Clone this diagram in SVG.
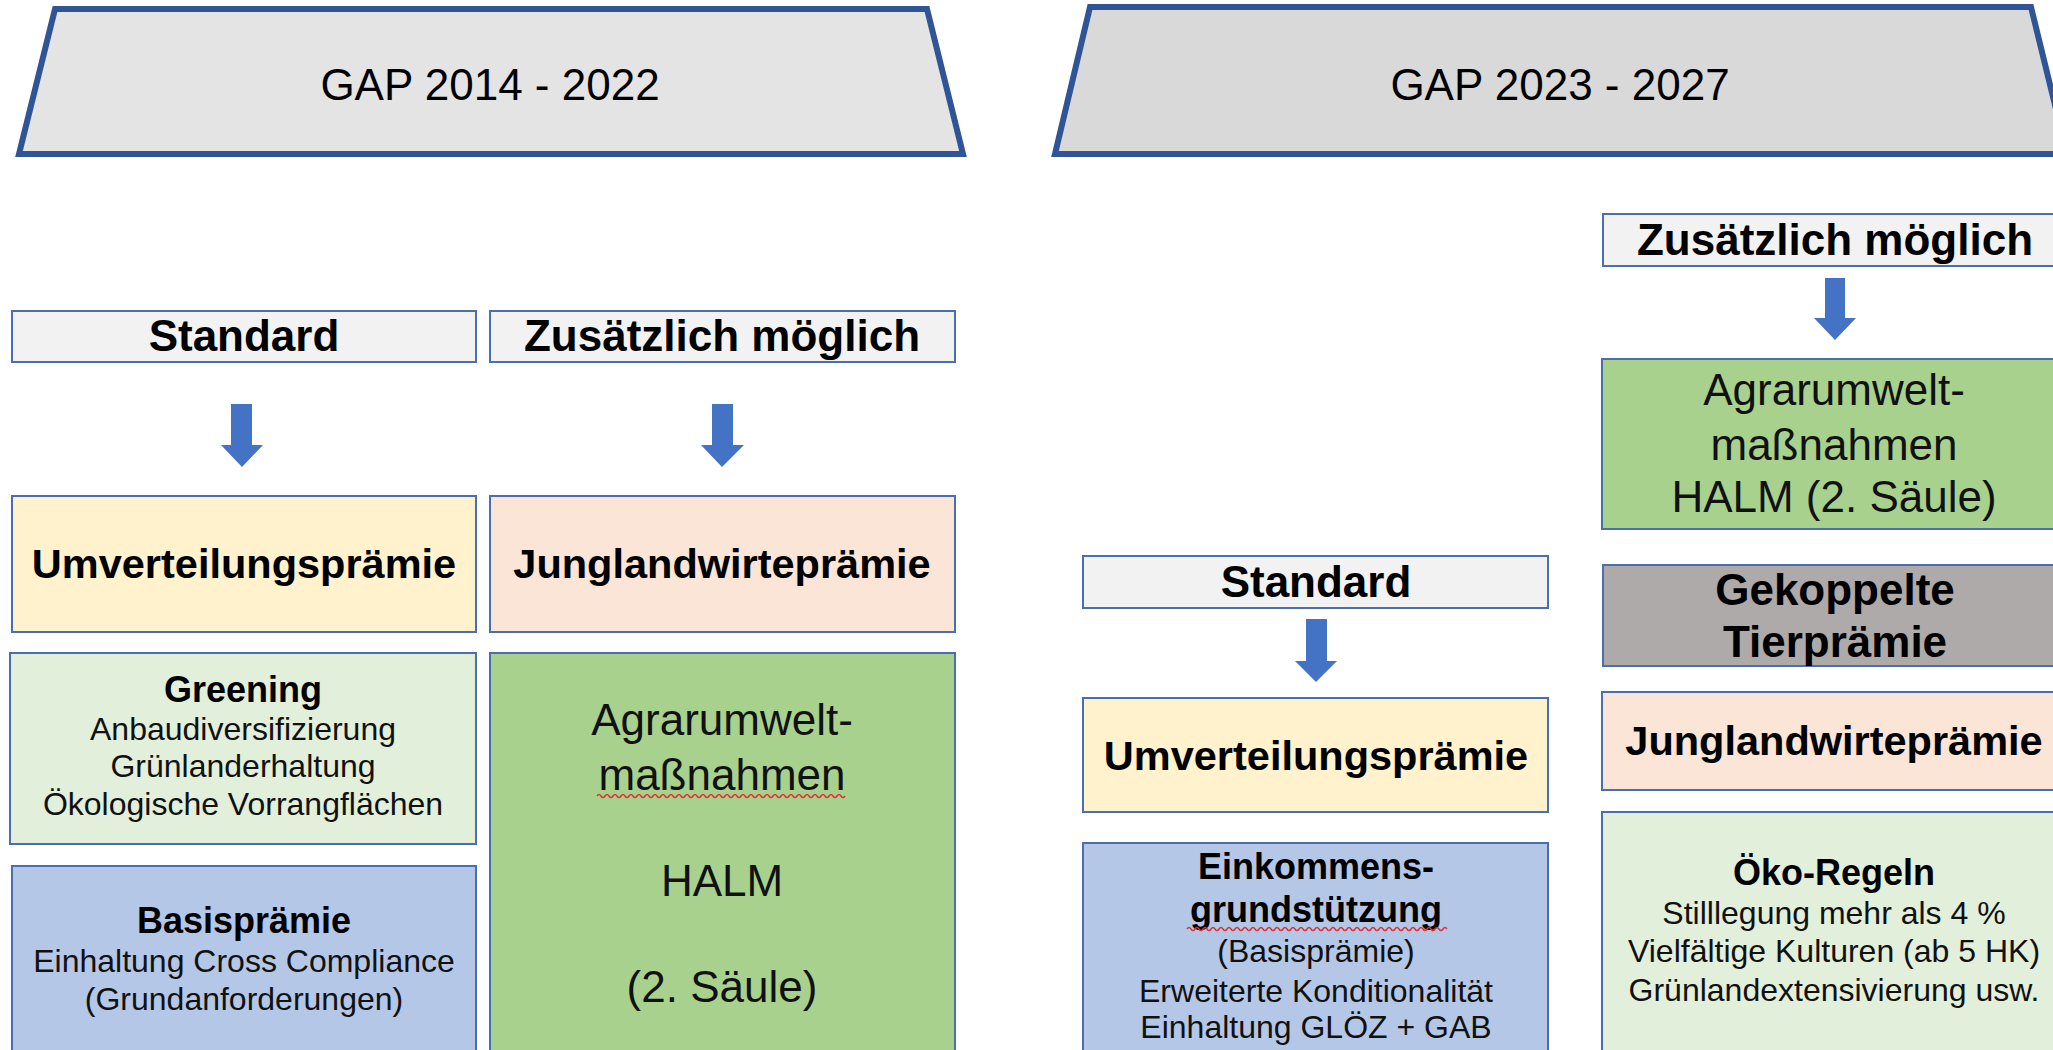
<svg xmlns="http://www.w3.org/2000/svg" width="2053" height="1050" viewBox="0 0 2053 1050">
<defs>
<style>
.bg{fill:#ffffff}
.trap{stroke:#2F5597;stroke-width:6;stroke-linejoin:miter}
.box{stroke:#4A6EB0;stroke-width:2}
.hdr{fill:#F2F2F2}
.yel{fill:#FFF2CC}
.pink{fill:#FBE5D6}
.lgreen{fill:#E2EFDA}
.green{fill:#A9D18E}
.blue{fill:#B4C7E7}
.gray{fill:#AEAAAA}
text{font-family:"Liberation Sans",Arial,sans-serif;text-anchor:middle;fill:#000}
.title{font-size:44px}
.h{font-size:44px;font-weight:bold}
.hm{font-size:41.5px;font-weight:bold}
.b{font-size:36px;font-weight:bold}
.r{font-size:32px;fill:#111}
.big{font-size:44px;fill:#111}
.arrow{fill:#4472C4}
.squig{fill:none;stroke:#E03030;stroke-width:1.5}
</style>
</defs>
<rect class="bg" x="0" y="0" width="2053" height="1050"/>

<g id="title-left">
<polygon class="trap" fill="#E4E4E4" points="55,9 927,9 963,154 19,154"/>
<text class="title" x="490" y="100">GAP 2014 - 2022</text>
</g>
<g id="title-right">
<polygon class="trap" fill="#D9D9D9" points="1090,7 2031,7 2067,154 1055,154"/>
<text class="title" x="1560" y="100">GAP 2023 - 2027</text>
</g>

<!-- Left column: 2014-2022 -->
<g id="l-standard">
<rect class="box hdr" x="12" y="311" width="464" height="51"/>
<text class="h" x="244" y="351">Standard</text>
</g>
<g id="l-zusaetzlich">
<rect class="box hdr" x="490" y="311" width="465" height="51"/>
<text class="h" x="722" y="351">Zusätzlich möglich</text>
</g>
<g id="l-umverteilung">
<rect class="box yel" x="12" y="496" width="464" height="136"/>
<text class="hm" x="244" y="578">Umverteilungsprämie</text>
</g>
<g id="l-jungland">
<rect class="box pink" x="490" y="496" width="465" height="136"/>
<text class="hm" x="722" y="578">Junglandwirteprämie</text>
</g>
<g id="l-greening">
<rect class="box lgreen" x="10" y="653" width="466" height="191"/>
<text class="b" x="243" y="702">Greening</text>
<text class="r" x="243" y="740">Anbaudiversifizierung</text>
<text class="r" x="243" y="777">Grünlanderhaltung</text>
<text class="r" x="243" y="815">Ökologische Vorrangflächen</text>
</g>
<g id="l-basis">
<rect class="box blue" x="12" y="866" width="464" height="200"/>
<text class="b" x="244" y="933">Basisprämie</text>
<text class="r" x="244" y="972">Einhaltung Cross Compliance</text>
<text class="r" x="244" y="1010">(Grundanforderungen)</text>
</g>
<g id="l-aum">
<rect class="box green" x="490" y="653" width="465" height="413"/>
<text class="big" x="722" y="735">Agrarumwelt-</text>
<text class="big" x="722" y="790">maßnahmen</text>
<path class="squig" d="M597,796 q2,-3 4,0 t4,0 t4,0 t4,0 t4,0 t4,0 t4,0 t4,0 t4,0 t4,0 t4,0 t4,0 t4,0 t4,0 t4,0 t4,0 t4,0 t4,0 t4,0 t4,0 t4,0 t4,0 t4,0 t4,0 t4,0 t4,0 t4,0 t4,0 t4,0 t4,0 t4,0 t4,0 t4,0 t4,0 t4,0 t4,0 t4,0 t4,0 t4,0 t4,0 t4,0 t4,0 t4,0 t4,0 t4,0 t4,0 t4,0 t4,0 t4,0 t4,0 t4,0 t4,0 t4,0 t4,0 t4,0 t4,0 t4,0 t4,0 t4,0 t4,0 t4,0 t4,0"/>
<text class="big" x="722" y="896">HALM</text>
<text class="big" x="722" y="1002">(2. Säule)</text>
</g>

<!-- Right column: 2023-2027 -->
<g id="r-standard">
<rect class="box hdr" x="1083" y="556" width="465" height="52"/>
<text class="h" x="1316" y="597">Standard</text>
</g>
<g id="r-umverteilung">
<rect class="box yel" x="1083" y="698" width="465" height="114"/>
<text class="hm" x="1316" y="770">Umverteilungsprämie</text>
</g>
<g id="r-einkommen">
<rect class="box blue" x="1083" y="843" width="465" height="223"/>
<text class="b" x="1316" y="879">Einkommens-</text>
<text class="b" x="1316" y="922">grundstützung</text>
<path class="squig" d="M1187,929 q2,-3 4,0 t4,0 t4,0 t4,0 t4,0 t4,0 t4,0 t4,0 t4,0 t4,0 t4,0 t4,0 t4,0 t4,0 t4,0 t4,0 t4,0 t4,0 t4,0 t4,0 t4,0 t4,0 t4,0 t4,0 t4,0 t4,0 t4,0 t4,0 t4,0 t4,0 t4,0 t4,0 t4,0 t4,0 t4,0 t4,0 t4,0 t4,0 t4,0 t4,0 t4,0 t4,0 t4,0 t4,0 t4,0 t4,0 t4,0 t4,0 t4,0 t4,0 t4,0 t4,0 t4,0 t4,0 t4,0 t4,0 t4,0 t4,0 t4,0 t4,0 t4,0 t4,0 t4,0 t4,0 t4,0"/>
<text class="r" x="1316" y="962">(Basisprämie)</text>
<text class="r" x="1316" y="1002">Erweiterte Konditionalität</text>
<text class="r" x="1316" y="1038">Einhaltung GLÖZ + GAB</text>
</g>
<g id="r-zusaetzlich">
<rect class="box hdr" x="1603" y="214" width="465" height="52"/>
<text class="h" x="1835" y="255">Zusätzlich möglich</text>
</g>
<g id="r-aum">
<rect class="box green" x="1602" y="359" width="466" height="170"/>
<text class="big" x="1834" y="405">Agrarumwelt-</text>
<text class="big" x="1834" y="460">maßnahmen</text>
<text class="big" x="1834" y="512">HALM (2. Säule)</text>
</g>
<g id="r-gekoppelt">
<rect class="box gray" x="1603" y="565" width="465" height="101"/>
<text class="h" x="1835" y="605">Gekoppelte</text>
<text class="h" x="1835" y="657">Tierprämie</text>
</g>
<g id="r-jungland">
<rect class="box pink" x="1602" y="692" width="466" height="98"/>
<text class="hm" x="1834" y="755">Junglandwirteprämie</text>
</g>
<g id="r-oeko">
<rect class="box lgreen" x="1602" y="812" width="466" height="254"/>
<text class="b" x="1834" y="885">Öko-Regeln</text>
<text class="r" x="1834" y="924">Stilllegung mehr als 4 %</text>
<text class="r" x="1834" y="962">Vielfältige Kulturen (ab 5 HK)</text>
<text class="r" x="1834" y="1001">Grünlandextensivierung usw.</text>
</g>

<g id="connectors">
<polygon class="arrow" points="231,404 252,404 252,445 263,445 242,467 221,445 231,445"/>
<polygon class="arrow" points="712,404 733,404 733,445 744,445 722,467 701,445 712,445"/>
<polygon class="arrow" points="1306,619 1327,619 1327,661 1337,661 1316,682 1295,661 1306,661"/>
<polygon class="arrow" points="1825,278 1845,278 1845,318 1856,318 1835,340 1814,318 1825,318"/>
</g>
</svg>
